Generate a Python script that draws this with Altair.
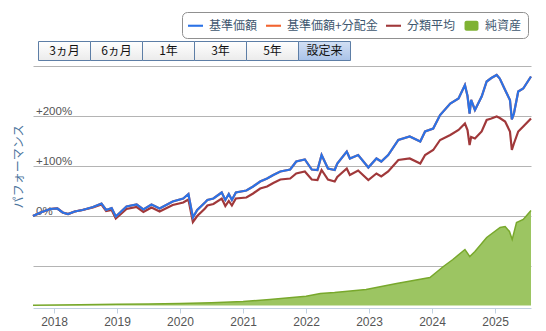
import altair as alt
import pandas as pd

# ---------------- data ----------------
dates = ["2017-09-01","2017-10-15","2017-12-10","2018-01-20","2018-02-20","2018-03-23","2018-05-01","2018-06-15","2018-08-15","2018-10-03","2018-10-30","2018-12-01","2018-12-25","2019-02-25","2019-04-25","2019-06-03","2019-07-20","2019-09-05","2019-11-20","2020-01-20","2020-02-19","2020-03-16","2020-04-10","2020-05-25","2020-06-08","2020-07-13","2020-08-30","2020-09-20","2020-10-10","2020-10-28","2020-11-20","2021-01-20","2021-02-28","2021-04-10","2021-05-20","2021-06-25","2021-08-05","2021-10-01","2021-11-05","2021-12-25","2022-02-03","2022-03-08","2022-04-01","2022-05-08","2022-06-16","2022-07-01","2022-08-25","2022-09-12","2022-10-30","2022-12-28","2023-02-13","2023-03-13","2023-04-22","2023-06-20","2023-08-25","2023-10-25","2023-11-22","2024-01-08","2024-02-17","2024-04-16","2024-06-03","2024-07-10","2024-07-25","2024-08-06","2024-08-15","2024-09-06","2024-10-15","2024-11-13","2024-12-10","2025-01-10","2025-01-28","2025-02-28","2025-03-28","2025-04-08","2025-04-20","2025-05-15","2025-06-13","2025-07-28"]

# 基準価額 (%)
nav = [0, 7, 14,
       15, 7, 4, 9, 12, 18, 25, 12, 16, -1,
       19, 23, 13, 23, 15, 29,
       35, 44, -3, 12, 27, 32, 35, 47, 32, 44, 32, 47,
       51, 59, 69, 75, 82, 89, 93, 109, 113,
       93, 92, 122, 95, 92, 105, 129, 115, 122, 97,
       115, 109, 122, 152, 159, 149, 169,
       175, 202, 225, 235, 262, 240, 205, 232, 212, 239, 269, 276,
       282, 275, 252, 232, 193, 205, 249, 255, 279]

# 基準価額+分配金 (%) - no distributions, identical to 基準価額 in the picture
nav_dist = [0, 7, 14,
            15, 7, 4, 9, 12, 18, 25, 12, 16, -1,
            19, 23, 13, 23, 15, 29,
            35, 44, -3, 12, 27, 32, 35, 47, 32, 44, 32, 47,
            51, 59, 69, 75, 82, 89, 93, 109, 113,
            93, 92, 122, 95, 92, 105, 129, 115, 122, 97,
            115, 109, 122, 152, 159, 149, 169,
            175, 202, 225, 235, 262, 240, 205, 232, 212, 239, 269, 276,
            282, 275, 252, 232, 193, 205, 249, 255, 279]

# 分類平均 (%)
category_avg = [0, 7, 14,
                15, 7, 4, 9, 12, 17, 23, 10, 12, -5,
                14, 18, 8, 17, 9, 22,
                27, 33, -12, 0, 15, 21, 24, 35, 20, 30, 21, 35,
                37, 45, 55, 59, 66, 73, 75, 85, 89,
                73, 72, 92, 73, 69, 78, 95, 82, 91, 72,
                85, 79, 89, 112, 115, 105, 122,
                132, 152, 162, 172, 185, 172, 142, 158, 155, 169, 192, 195,
                199, 196, 189, 169, 132, 145, 169, 179, 195]

# 純資産 (億円)
asset_dates = ["2017-09-01","2018-06-01","2019-01-01","2019-07-01","2020-01-01","2020-07-01","2021-01-01","2021-06-05","2022-01-01","2022-03-25","2022-06-15","2022-12-15","2023-06-10","2023-12-20","2024-03-07","2024-05-01","2024-07-10","2024-08-07","2024-09-06","2024-11-13","2025-01-30","2025-02-28","2025-03-25","2025-04-10","2025-05-05","2025-06-13","2025-07-28"]
net_assets = [40, 150, 240, 300, 400, 560, 800, 1200, 1860, 2400, 2600, 3200, 4400, 5600, 7800, 9200, 11200, 9800, 10800, 13600, 15600, 15800, 14800, 13200, 16600, 17200, 19000]

series = ["基準価額", "基準価額+分配金", "分類平均", "純資産"]
series_colors = ["#2b72e6", "#f26430", "#a0383a", "#7fb233"]
buttons = ["3ヵ月", "6ヵ月", "1年", "3年", "5年", "設定来"]
active_button = "設定来"
years = list(range(2018, 2026))
perf_ticks = [-100, 0, 100, 200, 300]

# ---------------- styling ----------------
JP = "Noto Sans CJK JP"
LAT = "Liberation Sans"
line_path = "M-1,-0.14H1V0.14H-1Z"
box_path = ("M-0.66,-0.66H0.66A0.27,0.27 0 0 1 0.93,-0.39V0.39A0.27,0.27 0 0 1 0.66,0.66"
            "H-0.66A0.27,0.27 0 0 1 -0.93,0.39V-0.39A0.27,0.27 0 0 1 -0.66,-0.66Z")

perf_df = pd.DataFrame({"date": dates, "nav": nav, "nav_dist": nav_dist, "avg": category_avg})
asset_df = pd.DataFrame({"date": asset_dates, "assets": net_assets})

x_scale = alt.Scale(type="utc",
                    domain=[alt.DateTime(year=2017, month=9, date=1, utc=True),
                            alt.DateTime(year=2025, month=7, date=28, utc=True)])
x_axis = alt.Axis(values=[alt.DateTime(year=y, month=1, date=1, utc=True) for y in years],
                  format="%Y", grid=False, domainColor="#C0D0E0", tickColor="#C0D0E0",
                  tickSize=5, labelPadding=3, labelFont=LAT, labelFontSize=12,
                  labelColor="#555555", title=None)


def xenc():
    return alt.X("date:T", scale=x_scale, axis=x_axis, title=None)


perf_scale = alt.Scale(domain=[-184, 302], nice=False, zero=False)
perf_axis = alt.Axis(values=perf_ticks,
                     labelExpr="datum.value == 0 ? '0%' : ((datum.value > 0 && datum.value < 300) ? '+' + datum.value + '%' : '')",
                     grid=True, gridColor="#b4b4b4", domain=False, ticks=False, tickSize=0,
                     labelAlign="left", labelPadding=-2.5, labelBaseline="alphabetic",
                     labelOffset=-2, labelFont=LAT, labelFontSize=11.5, labelColor="#555555",
                     title="パフォーマンス", titleFont=JP, titleFontSize=12,
                     titleFontWeight="normal", titleColor="#4d759e", titleAngle=-90,
                     titleX=-15, titleY=101, titleAlign="center", titleBaseline="middle")


def perf_line(field, color):
    return alt.Chart(perf_df).mark_line(color=color, strokeWidth=2.2).encode(
        x=xenc(),
        y=alt.Y(f"{field}:Q", scale=perf_scale, axis=perf_axis, title="パフォーマンス"),
    )


perf = alt.layer(
    perf_line("avg", series_colors[2]),
    perf_line("nav_dist", series_colors[1]),
    perf_line("nav", series_colors[0]),
)

area = alt.Chart(asset_df).mark_area(
    color="#9cc562", opacity=1, line={"color": "#78a82c", "strokeWidth": 1.5}
).encode(
    x=xenc(),
    y=alt.Y("assets:Q", scale=alt.Scale(domain=[-500, 48100], nice=False, zero=False), axis=None),
)

main = alt.layer(area, perf).resolve_scale(y="independent")

# ---------------- range buttons ----------------
btn_df = pd.DataFrame({"label": buttons, "active": [b == active_button for b in buttons]})
btn_x = alt.X("label:N", scale=alt.Scale(domain=buttons, range=[5.5, 317.5],
                                         paddingInner=0, paddingOuter=0), axis=None)
grad_off = {"gradient": "linear", "x1": 0, "y1": 0, "x2": 0, "y2": 1,
            "stops": [{"offset": 0, "color": "#ffffff"}, {"offset": 1, "color": "#ebebeb"}]}
grad_on = {"gradient": "linear", "x1": 0, "y1": 0, "x2": 0, "y2": 1,
           "stops": [{"offset": 0, "color": "#d3e0f4"}, {"offset": 1, "color": "#a9c2e8"}]}

btn_off = alt.Chart(btn_df).transform_filter("!datum.active").mark_rect(
    fill=grad_off, stroke="#5d7ea6", strokeWidth=1
).encode(x=btn_x, y=alt.value(-23.5), y2=alt.value(-4.5))
btn_on = alt.Chart(btn_df).transform_filter("datum.active").mark_rect(
    fill=grad_on, stroke="#5d7ea6", strokeWidth=1
).encode(x=btn_x, y=alt.value(-23.5), y2=alt.value(-4.5))
btn_text = alt.Chart(btn_df).mark_text(font=JP, fontSize=12, color="#111111", baseline="middle").encode(
    x=btn_x, y=alt.value(-14), text="label:N"
)

# ---------------- legend ----------------
legend = alt.Legend(orient="none", legendX=149, legendY=-53, direction="horizontal",
                    title=None, strokeColor="#909090", cornerRadius=5, padding=6,
                    fillColor="#ffffff", symbolSize=225, symbolStrokeWidth=0,
                    symbolOpacity=1, labelFont=JP, labelFontSize=12, labelColor="#3E576F",
                    labelOffset=6, columnPadding=8)
leg_df = pd.DataFrame({"series": series})
legend_layer = alt.Chart(leg_df).mark_point(filled=True, opacity=0, size=1).encode(
    x=alt.value(0), y=alt.value(0),
    fill=alt.Fill("series:N", scale=alt.Scale(domain=series, range=series_colors), legend=legend),
    shape=alt.Shape("series:N", scale=alt.Scale(domain=series, range=[line_path, line_path, line_path, box_path]),
                    legend=legend),
)

chart = alt.layer(main, btn_off, btn_on, btn_text, legend_layer).resolve_scale(
    x="independent"
).properties(
    width=498, height=243,
    padding={"left": 33, "top": 65, "right": 15, "bottom": 23},
    autosize=alt.AutoSizeParams(type="none"),
    background="#ffffff",
).configure_view(stroke=None)

chart.save("out.html", embed_options={"renderer": "svg", "actions": False})
